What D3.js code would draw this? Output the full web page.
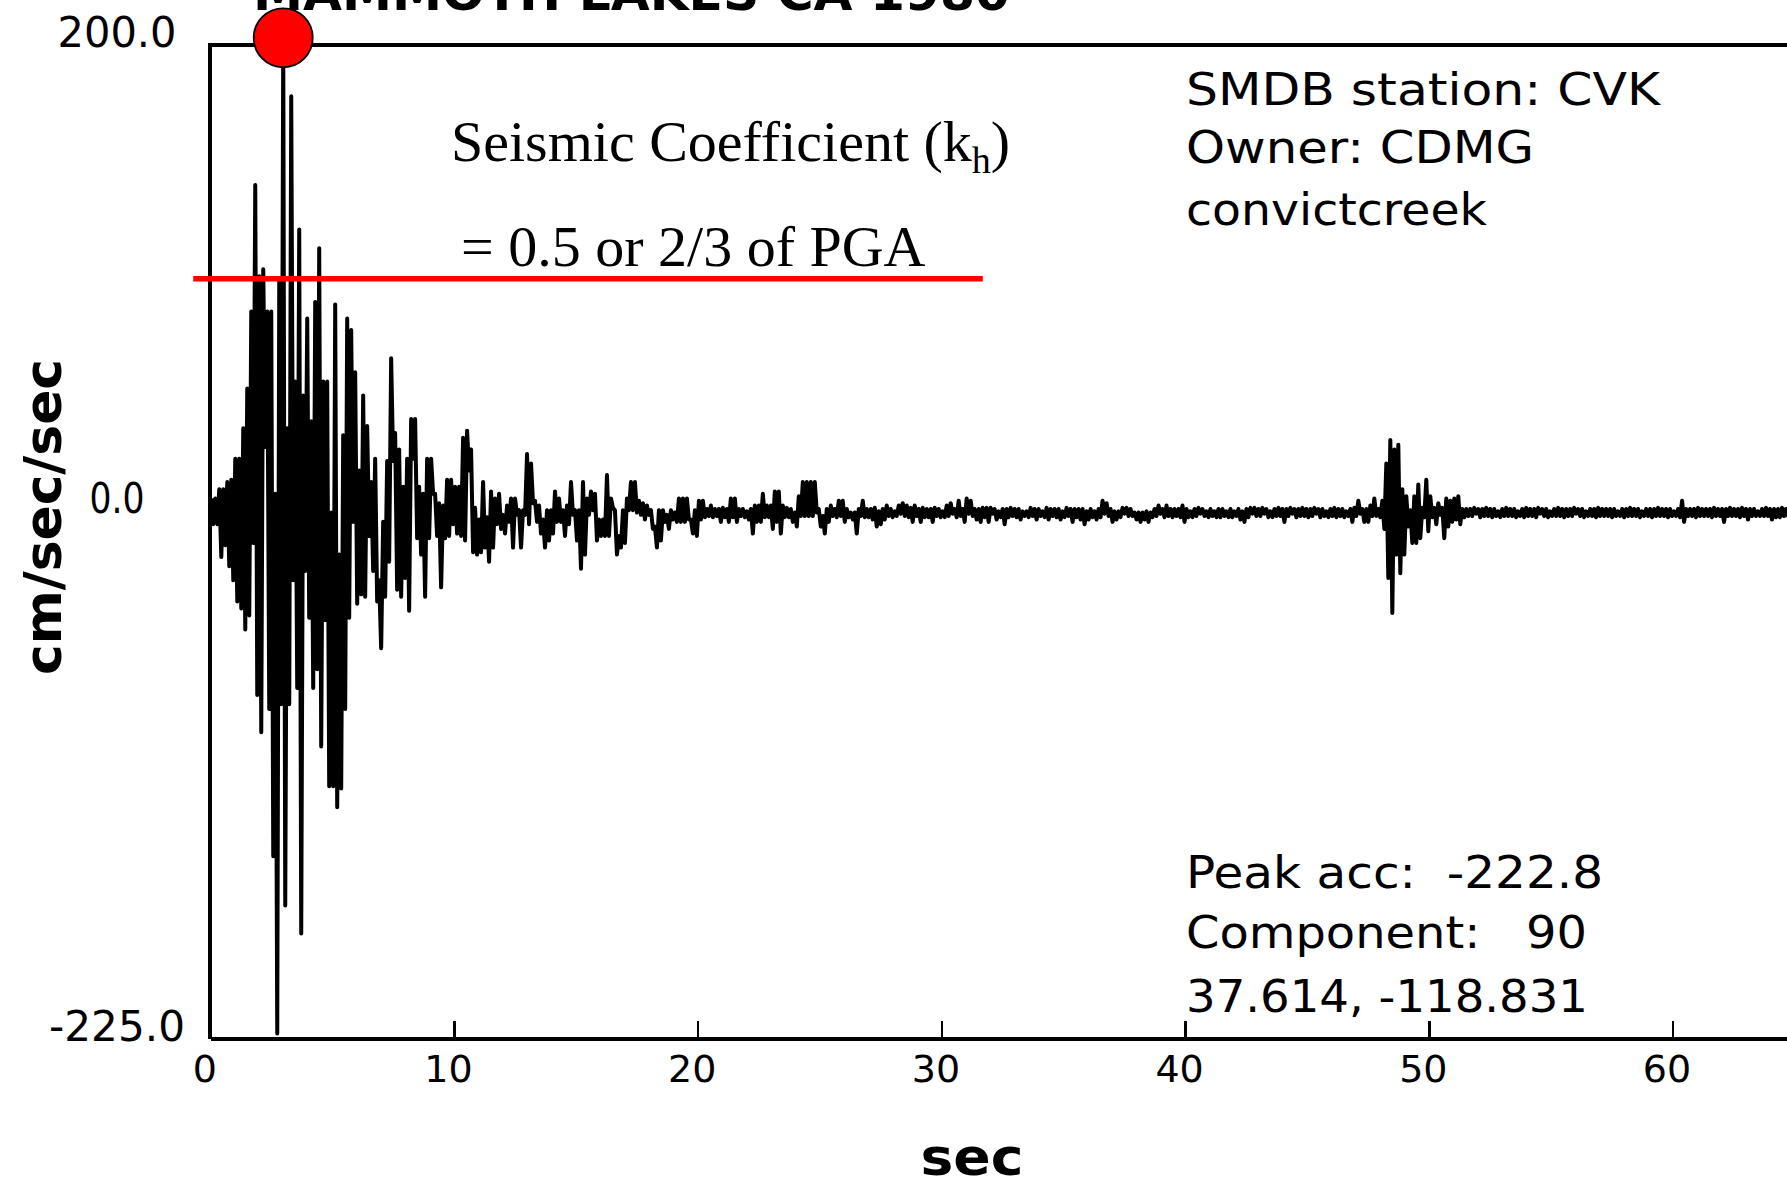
<!DOCTYPE html>
<html>
<head>
<meta charset="utf-8">
<script src="https://cdn.jsdelivr.net/npm/d3@7"></script>
<style>
  html, body { margin: 0; padding: 0; background: #fff; overflow: hidden; }
  svg { display: block; }
  text { font-family: "DejaVu Sans", "Liberation Sans", sans-serif; fill: #000; white-space: pre; }
</style>
</head>
<body>
<svg id="chart" width="1787" height="1181"></svg>
<script>
// Acceleration record, decimated to one max/min pair per time bin (cm/sec/sec)
const binSeconds = 0.164;

const accelMax = [
  6,6,10,10,13,14,23,23,36,53,
  86,140,101,104,86,86,8,99,203,36,
  178,56,121,50,83,39,90,113,56,56,
  0,89,-18,33,83,78,60,18,50,37,
  13,23,-29,-4,22,66,34,27,11,23,
  40,40,11,8,23,23,8,4,3,14,
  14,11,11,32,35,27,2,-3,13,-2,
  9,6,8,-1,3,6,6,1,1,25,
  21,5,3,-3,1,1,9,6,1,3,
  13,1,1,13,6,9,8,-3,-3,16,
  6,1,-10,1,6,13,13,5,4,3,
  1,-6,1,1,-1,1,0,6,6,6,
  -3,1,5,
  5,1.5,3,1.5,1.5,2,1.5,6,6,1.5,
  1.5,0.5,1.5,3,3,8,3,3,9,9,
  3,2,1.5,0,7,13,13,13,13,1.5,
  -1.5,1.5,3,1.5,5,5,1.5,0,0,1.5,
  5,1.5,1.5,2,0.5,1.5,3,1.5,0.5,3,
  4,3,2,3,1.5,2,1.5,1.5,2,1.5,
  0.5,3,4,1.5,5,1.5,6,5,1.5,1.5,
  2,2,2,1.5,0.5,1.5,1.5,2,1.5,1.5,
  0.5,0.5,2,1.5,1.5,0.5,2,1.5,1.5,1.5,
  0.5,2,1.5,1.5,1.5,1.5,0.5,1.5,0.5,1.5,
  5,4,1.5,0.5,0.5,2,2,1.5,0,0,
  0,0.5,0,1.5,3,1.5,3,1.5,1.5,1.5,
  3,1.5,0.5,1.5,2,1.5,0.5,1.5,0.5,1.5,
  1.5,0.5,1.5,0.5,1.5,0.5,1.5,2,2,1.5,
  2,1.5,0.5,1.5,2,1.5,1.5,2,1.5,1.5,
  2,1.5,1.5,2,1.5,1.5,0.5,1.5,2,1.5,
  1.5,0.5,1.5,2,5,1.5,1.5,3,6,1.5,
  5,21,31,27,29,10,7,1,7,12,
  2,14,7,2,4,2,6,5,6,7,
  1.5,1.5,1.5,2,1.5,1.5,2,1.5,1.5,0.5,
  1.5,2,1.5,1.5,0.5,1.5,2,1.5,1.5,2,
  1.5,1.5,0.5,1.5,2,1.5,1.5,1.5,2,1.5,
  1.5,0.5,1.5,1.5,2,1.5,1.5,1.5,1.5,0.5,
  1.5,1.5,2,1.5,1.5,0.5,1.5,1.5,1.5,2,
  1.5,1.5,1.5,0.5,1.5,5,1.5,1.5,1.5,2,
  1.5,1.5,1.5,2,1.5,1.5,1.5,2,1.5,1.5,
  2,1.5,1.5,1.5,0.5,1.5,2,1.5,1.5,1.5,
  2,1.5,1.5,1.5
];

const accelMin = [
  -5,-5,-19,-14,-23,-29,-38,-41,-50,-44,
  -13,-78,-94,28,-84,-147,-222.8,-82,-168,-82,
  -29,-75,-180,-25,-45,-75,-67,-100,-46,-117,
  -117,-126,-118,-84,-45,-4,-39,-35,-36,-10,
  -25,-38,-58,-36,-21,22,-33,-36,-28,-42,
  23,-11,-18,-36,-11,8,-10,-32,-11,-10,
  -5,-9,-10,-12,18,-17,-18,-17,-15,-21,
  -15,-5,-7,-9,-4,-15,-1,-15,-1,-5,
  4,-4,-9,-15,-12,-9,-4,-4,-10,-5,
  -1,-12,-24,-18,-1,1,-12,-10,-10,-10,
  2,-18,-15,-13,1,1,0,-1,-3,-1,
  -7,-15,-12,-4,-7,-3,-4,-4,-4,-3,
  -9,-10,-3,
  -2,-1.5,-2,-1.5,-4,-2,-4,-2,-4,-1.5,
  -2,-3,-9,-4,-4,-2,-2,-7,-4,-9,
  -2,-2,-4,-6,-1.5,-1.5,-1.5,-1.5,0,-6,
  -9,-4,-1.5,-2,-1.5,-4,-2,-3,-9,-1.5,
  -2,-2,-3,-6,-5,-3,-1.5,-2,-1.5,-0.5,
  -1.5,-2,-4,-1.5,-4,-2,-2,-4,-1.5,-2,
  -2,-1.5,-0.5,-2,-1.5,-4,-0.5,-1.5,-3,-4,
  -2,-4,-0.5,-3,-2,-5,-2,-1.5,-2,-3,
  -1.5,-2,-1.5,-3,-1.5,-2,-3,-1.5,-2,-3,
  -2,-1.5,-4,-2,-3,-5,-3,-2,-3,-2,
  -0.5,-1.5,-4,-3,-2,-0.5,-1.5,-1.5,-3,-4,
  -3,-4,-2,-1.5,-0.5,-2,-1.5,-2,-1.5,-2,
  -4,-2,-2,-1.5,-0.5,-1.5,-2,-1.5,-2,-2,
  -1.5,-2,-2,-1.5,-3,-4,-2,-0.5,-1.5,-1.5,
  -0.5,-2,-2,-1.5,-1.5,-4,-1.5,-0.5,-2,-1.5,
  -1.5,-2,-1.5,-0.5,-2,-1.5,-2,-1.5,-2,-1.5,
  -2,-1.5,-4,-1.5,-0.5,-4,-4,-1.5,-1.5,-2,
  -7,-28,-43,-18,-26,-18,-6,-13,-13,-11,
  -2,-8,-2,-5,-1,-11,-6,-4,-3,-5,
  -2,-1.5,-1.5,-0.5,-2,-1.5,-1.5,-2,-1.5,-2,
  -1.5,-1.5,-1.5,-2,-1.5,-2,-1.5,-1.5,-2,-0.5,
  -1.5,-2,-1.5,-1.5,-1.5,-2,-1.5,-1.5,-0.5,-1.5,
  -2,-1.5,-1.5,-2,-1.5,-1.5,-1.5,-2,-1.5,-1.5,
  -2,-1.5,-1.5,-1.5,-2,-1.5,-1.5,-2,-1.5,-1.5,
  -1.5,-2,-1.5,-1.5,-2,-4,-1.5,-1.5,-2,-1.5,
  -1.5,-1.5,-2,-1.5,-1.5,-4,-1.5,-1.5,-1.5,-2,
  -1.5,-3,-1.5,-1.5,-1.5,-1.5,-1.5,-3,-2,-2,
  -1.5,-1.5,-1.5,-2
];

const xTickValues = [0, 10, 20, 30, 40, 50, 60];
const yTickValues = [200, 0, -225];
const yTickLabels = ["200.0", "0.0", "-225.0"];

const titleText = "MAMMOTH LAKES CA 1980";
const stationLines = ["SMDB station: CVK", "Owner: CDMG", "convictcreek"];
const recordLines = ["Peak acc:  -222.8", "Component:   90", "37.614, -118.831"];
const coefficientLines = ["Seismic Coefficient (k", "h", ")", "= 0.5 or 2/3 of PGA"];
const coefficientLevel = 100;          // cm/sec/sec, half of the positive peak
const coefficientSpan = [-0.7, 31.7];  // seconds
const xTitle = "sec";
const yTitle = "cm/sec/sec";

// ---------- layout ----------
const svg = d3.select("#chart");
const plotLeft = 210.3, pxPerSec = 24.37;
const x = d3.scaleLinear().domain([0, 70]).range([plotLeft, plotLeft + 70 * pxPerSec]);
const y = d3.scaleLinear().domain([-225, 200]).range([1038.7, 44.8]);

// frame (top / left / right); bottom edge is the time axis
svg.append("path")
  .attr("d", `M${x(0)},${y(-225)}V${y(200)}H${x(70)}V${y(-225)}`)
  .attr("fill", "none").attr("stroke", "#000").attr("stroke-width", 4)
  .attr("shape-rendering", "crispEdges");

// time axis with inward ticks
const xAxis = d3.axisBottom(x).tickValues(xTickValues).tickSize(-18).tickSizeOuter(0)
  .tickFormat(d3.format("d"));
const gx = svg.append("g").attr("transform", `translate(0,${y(-225)})`).call(xAxis);
gx.select(".domain").attr("stroke", "#000").attr("stroke-width", 4).attr("shape-rendering", "crispEdges");
gx.selectAll(".tick line").attr("stroke", "#000").attr("stroke-width", 2.5).attr("shape-rendering", "crispEdges");
gx.selectAll(".tick text")
  .attr("y", 43).attr("dy", 0).attr("x", -6)
  .style("font-family", "'DejaVu Sans', sans-serif").style("font-size", "38px").attr("fill", "#000");

// acceleration tick labels
const yLabelWidths = [119, 55, 136];
svg.append("g").selectAll("text").data(yTickValues).join("text")
  .attr("x", 117)
  .attr("y", (d, i) => y(d) + (i === 1 ? 0 : 2))
  .attr("text-anchor", "middle")
  .style("font-size", "42px")
  .attr("textLength", (d, i) => yLabelWidths[i])
  .attr("lengthAdjust", "spacingAndGlyphs")
  .text((d, i) => yTickLabels[i]);

// trace: zig-zag through each bin's max and min
const tracePts = [];
accelMax.forEach((v, i) => {
  tracePts.push([i * binSeconds + 0.25 * binSeconds, v]);
  tracePts.push([i * binSeconds + 0.75 * binSeconds, accelMin[i]]);
});
const line = d3.line().x(d => x(d[0])).y(d => y(d[1]));
svg.append("path")
  .attr("d", line(tracePts))
  .attr("fill", "none").attr("stroke", "#000").attr("stroke-width", 4)
  .attr("stroke-linejoin", "round");

// seismic coefficient level
svg.append("line")
  .attr("x1", x(coefficientSpan[0])).attr("x2", x(coefficientSpan[1]))
  .attr("y1", y(coefficientLevel)).attr("y2", y(coefficientLevel))
  .attr("stroke", "#ff0000").attr("stroke-width", 5.5);

// marker on the positive peak
const peakIdx = d3.maxIndex(accelMax);
svg.append("ellipse")
  .attr("cx", x(peakIdx * binSeconds + 0.25 * binSeconds))
  .attr("cy", y(accelMax[peakIdx]))
  .attr("rx", 29.5).attr("ry", 29.5)
  .attr("fill", "#ff0000").attr("stroke", "#000").attr("stroke-width", 1.8);

// title (runs off the top edge)
svg.append("text")
  .attr("x", 253).attr("y", 10)
  .style("font-size", "50px").style("font-weight", "bold")
  .attr("textLength", 757).attr("lengthAdjust", "spacingAndGlyphs")
  .text(titleText);

// coefficient annotation
const coef = svg.append("text")
  .attr("x", 451).attr("y", 161)
  .style("font-family", "'Liberation Serif', 'Times New Roman', serif")
  .style("font-size", "58px");
coef.append("tspan").text(coefficientLines[0]);
coef.append("tspan").attr("dy", 12).style("font-size", "38px").text(coefficientLines[1]);
coef.append("tspan").attr("dy", -12).text(coefficientLines[2]);
svg.append("text")
  .attr("x", 461).attr("y", 266)
  .style("font-family", "'Liberation Serif', 'Times New Roman', serif")
  .style("font-size", "58px")
  .text(coefficientLines[3]);

// station block
const stationBase = [105, 163, 225];
const stationWidths = [474, 348, 301];
svg.append("g").selectAll("text").data(stationLines).join("text")
  .attr("x", 1186).attr("y", (d, i) => stationBase[i])
  .style("font-size", "44px")
  .attr("textLength", (d, i) => stationWidths[i]).attr("lengthAdjust", "spacingAndGlyphs")
  .text(d => d);

// record block
const recordBase = [888, 948, 1012];
const recordWidths = [417, 401, 402];
svg.append("g").selectAll("text").data(recordLines).join("text")
  .attr("x", 1186).attr("y", (d, i) => recordBase[i])
  .style("font-size", "44px")
  .attr("textLength", (d, i) => recordWidths[i]).attr("lengthAdjust", "spacingAndGlyphs")
  .text(d => d);

// axis titles
svg.append("text")
  .attr("x", 972).attr("y", 1175)
  .attr("text-anchor", "middle")
  .style("font-size", "52px").style("font-weight", "bold")
  .attr("textLength", 103).attr("lengthAdjust", "spacingAndGlyphs")
  .text(xTitle);
svg.append("text")
  .attr("transform", "translate(61,517) rotate(-90)")
  .attr("text-anchor", "middle")
  .style("font-size", "52px").style("font-weight", "bold")
  .attr("textLength", 316).attr("lengthAdjust", "spacingAndGlyphs")
  .text(yTitle);
</script>
</body>
</html>
